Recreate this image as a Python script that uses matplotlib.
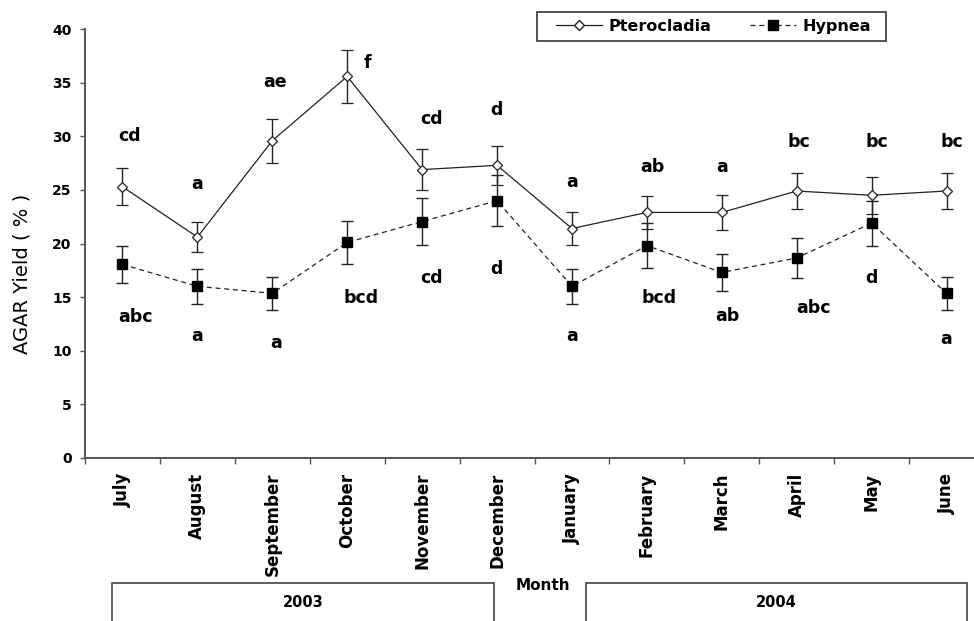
import numpy as np
import matplotlib
matplotlib.use("Agg")
import matplotlib.pyplot as plt
from matplotlib.patches import Rectangle
from matplotlib.lines import Line2D

# ---------------- data ----------------
months = ["July", "August", "September", "October", "November", "December",
          "January", "February", "March", "April", "May", "June"]
ptero = [25.3, 20.6, 29.6, 35.6, 26.9, 27.3, 21.4, 22.9, 22.9, 24.9, 24.5, 24.9]
ptero_err = [1.75, 1.4, 2.05, 2.5, 1.9, 1.85, 1.5, 1.5, 1.6, 1.7, 1.7, 1.7]
hypnea = [18.05, 16.0, 15.35, 20.1, 22.05, 24.0, 16.0, 19.8, 17.3, 18.65, 21.9, 15.35]
hypnea_err = [1.75, 1.65, 1.55, 2.0, 2.2, 2.4, 1.65, 2.1, 1.75, 1.85, 2.1, 1.55]

upper_letters = ["cd", "a", "ae", "f", "cd", "d", "a", "ab", "a", "bc", "bc", "bc"]
upper_y = [30.0, 25.6, 35.1, 36.9, 31.6, 32.45, 25.7, 27.1, 27.1, 29.45, 29.45, 29.45]
lower_letters = ["abc", "a", "a", "bcd", "cd", "d", "a", "bcd", "ab", "abc", "d", "a"]
lower_y = [13.1, 11.35, 10.7, 14.9, 16.8, 17.65, 11.4, 14.95, 13.2, 13.95, 16.8, 11.05]

years = ["2003", "2004"]
y_ticks = [0, 5, 10, 15, 20, 25, 30, 35, 40]

# ---------------- layout ----------------
upper_dx = [0.09, 0.0, 0.04, 0.27, 0.13, -0.01, 0.0, 0.07, 0.0, 0.03, 0.07, 0.07]
lower_dx = [0.17, 0.0, 0.05, 0.19, 0.13, -0.01, 0.0, 0.16, 0.08, 0.22, 0.0, 0.0]

W, H = 974, 621
fig = plt.figure(figsize=(W / 100, H / 100), dpi=100)
plt.rcParams['font.family'] = ['DejaVu Sans']

ax_l, ax_r, ax_b, ax_t = 85, 984, 457.7, 29.3
ax = fig.add_axes([ax_l / W, 1 - ax_b / H, (ax_r - ax_l) / W, (ax_b - ax_t) / H])

x = np.arange(len(months))
line_col = "#222222"
axis_col = "#555555"

ax.errorbar(x, ptero, yerr=ptero_err, color=line_col, lw=0.9, marker="D",
            ms=5.3, mfc="white", mec="#222222", mew=0.9, ecolor="#222222",
            elinewidth=1.0, capsize=4.5, capthick=1.0, zorder=3)
ax.errorbar(x, hypnea, yerr=hypnea_err, color=line_col, lw=0.9, ls=(0, (4, 3)),
            marker="s", ms=7, mfc="black", mec="black", ecolor="#222222",
            elinewidth=1.0, capsize=4.5, capthick=1.0, zorder=3)

for i in range(len(months)):
    ax.text(x[i] + upper_dx[i], upper_y[i], upper_letters[i], ha="center",
            va="center", fontsize=12.5, fontweight="bold", color="black")
    ax.text(x[i] + lower_dx[i], lower_y[i], lower_letters[i], ha="center",
            va="center", fontsize=12.5, fontweight="bold", color="black")

ax.set_xlim(-0.5, len(months) - 0.5)
ax.set_ylim(0, 40)
for s in ["top", "right"]:
    ax.spines[s].set_visible(False)
for s in ["left", "bottom"]:
    ax.spines[s].set_color(axis_col)
    ax.spines[s].set_linewidth(1.4)

ax.set_yticks(y_ticks)
ax.set_yticklabels([str(v) for v in y_ticks], fontsize=10, fontweight="bold")
ax.tick_params(axis="y", direction="out", length=3.6, width=1.0, color=axis_col, pad=6)

ax.set_xticks(np.arange(-0.5, len(months), 1.0))
ax.set_xticklabels([])
ax.tick_params(axis="x", which="major", direction="out", length=4.5, width=1.0, color=axis_col)
ax.set_xticks(x, minor=True)
ax.set_xticklabels(months, minor=True, rotation=90, fontsize=12, fontweight="bold")
ax.tick_params(axis="x", which="minor", length=0, pad=11)

fig.text(22 / W, 1 - 274 / H, "AGAR Yield ( % )", rotation=90, ha="center",
         va="center", fontsize=14)

# legend
h1 = Line2D([], [], color=line_col, lw=0.9, marker="D", ms=5.3, mfc="white", mec="#222222")
h2 = Line2D([], [], color=line_col, lw=0.9, ls=(0, (4, 3)), marker="s", ms=7, mfc="black", mec="black")
leg = fig.legend([h1, h2], ["Pterocladia", "Hypnea"], ncol=2, frameon=False,
                 loc="center", bbox_to_anchor=((536.7 + 886) / 2 / W + 0.002, 1 - 26.5 / H),
                 prop={"size": 11.5, "weight": "bold"}, handlelength=2.9,
                 handletextpad=0.4, columnspacing=2.4)
fig.add_artist(Rectangle((536.7 / W, 1 - 41 / H), (886 - 536.7) / W, 29 / H,
                         transform=fig.transFigure, fill=False, ec="#444444", lw=1.3))

# year boxes
year_boxes = [(112.3, 494.3), (586, 966.7)]
for (l, r), yr in zip(year_boxes, years):
    fig.add_artist(Rectangle((l / W, -0.05), (r - l) / W, 0.05 + 1 - 582.7 / H,
                             transform=fig.transFigure, fill=False, ec="#444444", lw=1.2))
    fig.text((l + r) / 2 / W, 1 - 602.7 / H, yr, ha="center", va="center",
             fontsize=10.5, fontweight="bold")
fig.text(543 / W, 1 - 585 / H, "Month", ha="center", va="center", fontsize=11,
         fontweight="bold")

fig.savefig("out.png", dpi=100)
